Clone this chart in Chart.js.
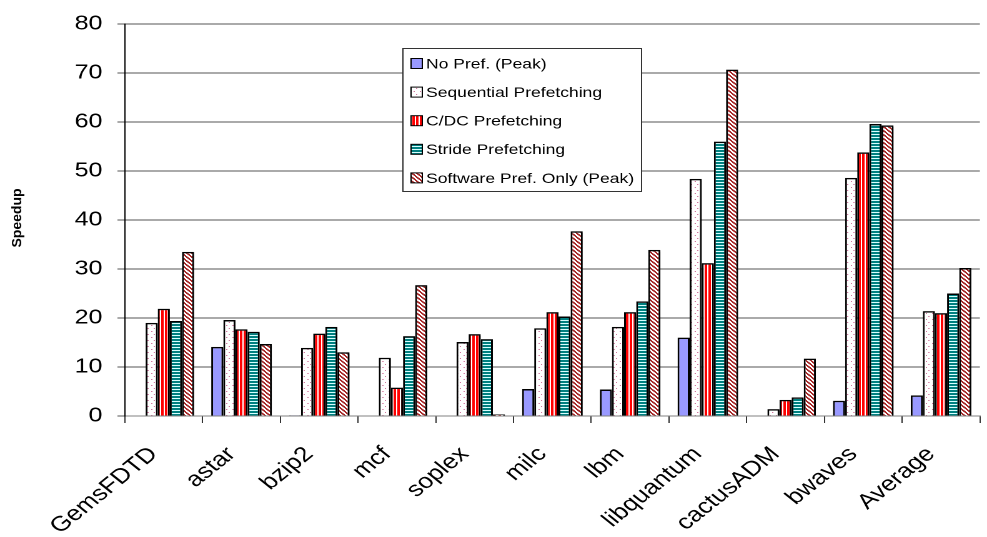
<!DOCTYPE html>
<html>
<head>
<meta charset="utf-8">
<script src="https://cdn.jsdelivr.net/npm/chart.js@4.4.0/dist/chart.umd.min.js"></script>
<style>
  html, body { margin:0; padding:0; background:#fff; overflow:hidden; }
</style>
</head>
<body>
<!-- drawn at 790 logical px wide and shown at 987: the original's text is stretched ~1.25x horizontally -->
<canvas id="chart" width="790" height="537" style="display:block;width:987px;height:537px;"></canvas>
<script>
const benchmarks = ['GemsFDTD','astar','bzip2','mcf','soplex','milc','lbm','libquantum','cactusADM','bwaves','Average'];
const noPref       = [0,    14.1, 0.15, 0,    0,    5.5,  5.4,  16.0, 0,    3.1,  4.2];
const sequential   = [19.0, 19.6, 13.9, 11.9, 15.1, 17.9, 18.2, 48.4, 1.4,  48.6, 21.4];
const cdc          = [21.9, 17.7, 16.8, 5.8,  16.7, 21.2, 21.2, 31.2, 3.3,  53.8, 21.0];
const stride       = [19.4, 17.2, 18.2, 16.3, 15.7, 20.3, 23.4, 56.0, 3.8,  59.6, 25.0];
const softwareOnly = [33.5, 14.7, 13.0, 26.7, 0.3,  37.7, 33.9, 70.7, 11.7, 59.3, 30.2];
const yTicks = [0, 10, 20, 30, 40, 50, 60, 70, 80];

const FONT = '"Liberation Sans", Arial, sans-serif';
const STRETCH = 987 / 790;
const canvas = document.getElementById('chart');
const ctx = canvas.getContext('2d');

// small tile -> repeating fill
function pattern(w, h, bg, draw) {
  const t = document.createElement('canvas');
  t.width = w; t.height = h;
  const c = t.getContext('2d');
  c.fillStyle = bg; c.fillRect(0, 0, w, h);
  draw(c);
  return ctx.createPattern(t, 'repeat');
}

const fills = {
  noPref: '#9999ff',
  seq: pattern(5, 6, '#ffffff', c => { c.fillStyle = '#d2789f'; c.fillRect(1, 1, 1, 1); c.fillRect(3, 4, 1, 1); }),
  cdc: pattern(3, 1, '#ffffff', c => { c.fillStyle = '#ff0000'; c.fillRect(0, 0, 2, 1); }),
  stride: pattern(1, 3, '#d8ffff', c => { c.fillStyle = '#008080'; c.fillRect(0, 0, 1, 2); }),
  sw: pattern(4, 4, '#ffffff', c => {
    c.fillStyle = '#a82a2a';
    for (let i = 0; i < 4; i++) { c.fillRect(i, i, 1, 1); c.fillRect((i + 1) % 4, i, 1, 1); }
  }),
};

const styling = {
  id: 'styling',
  beforeDraw(chart) { chart.ctx.imageSmoothingEnabled = false; },
  beforeDatasetsDraw(chart) {
    const c = chart.ctx;
    c.save();
    c.shadowColor = 'rgba(0,0,0,0.35)';
    c.shadowOffsetX = 3;
    c.shadowOffsetY = 3;
    c.shadowBlur = 0;
  },
  afterDatasetsDraw(chart) { chart.ctx.restore(); },
  afterDraw(chart) {
    const c = chart.ctx;
    c.save();
    // legend box
    c.fillStyle = '#fff';
    c.fillRect(322.5, 48.5, 191, 143);
    c.strokeStyle = '#333';
    c.lineWidth = 1;
    c.strokeRect(322.5, 48.5, 191, 143);
    c.font = '14px ' + FONT;
    c.textBaseline = 'middle';
    chart.data.datasets.forEach((ds, i) => {
      const cy = 63.5 + i * 28.6;
      c.fillStyle = ds.backgroundColor;
      c.fillRect(329, cy - 5, 9, 10);
      c.strokeStyle = '#000';
      c.strokeRect(329, cy - 5, 9, 10);
      c.fillStyle = '#000';
      c.fillText(ds.label, 341, cy + 1);
    });
    // y title, not stretched
    const a = chart.chartArea;
    c.translate(14, (a.top + a.bottom) / 2 - 2);
    c.scale(1 / STRETCH, 1);
    c.rotate(-Math.PI / 2);
    c.font = 'bold 14px ' + FONT;
    c.textAlign = 'center';
    c.textBaseline = 'middle';
    c.fillText('Speedup', 0, 0);
    c.restore();
  }
};

const barOpts = { borderColor: '#000', borderWidth: 1.5, borderSkipped: 'start', categoryPercentage: 0.78, barPercentage: 1 };

new Chart(ctx, {
  type: 'bar',
  data: {
    labels: benchmarks,
    datasets: [
      { label: 'No Pref. (Peak)', data: noPref, backgroundColor: fills.noPref, ...barOpts },
      { label: 'Sequential Prefetching', data: sequential, backgroundColor: fills.seq, ...barOpts },
      { label: 'C/DC Prefetching', data: cdc, backgroundColor: fills.cdc, ...barOpts },
      { label: 'Stride Prefetching', data: stride, backgroundColor: fills.stride, ...barOpts },
      { label: 'Software Pref. Only (Peak)', data: softwareOnly, backgroundColor: fills.sw, ...barOpts },
    ]
  },
  options: {
    responsive: false,
    devicePixelRatio: 2,
    animation: false,
    layout: { padding: { top: 18, right: 0, left: 0, bottom: 0 } },
    plugins: { legend: { display: false }, tooltip: { enabled: false } },
    scales: {
      x: {
        afterFit: s => { s.height = 121; },
        grid: { drawOnChartArea: false, tickLength: 7, color: '#333', offset: true },
        border: { color: '#808080', width: 1 },
        ticks: { autoSkip: false, minRotation: 45, maxRotation: 45, color: '#000', padding: 19, labelOffset: -8, font: { family: FONT, size: 21 } }
      },
      y: {
        min: 0, max: 80,
        afterFit: s => { s.width = 100; },
        afterBuildTicks: s => { s.ticks = yTicks.map(v => ({ value: v })); },
        grid: { color: '#555', tickLength: 6 },
        border: { color: '#000', width: 1 },
        ticks: { color: '#000', padding: 12, font: { family: FONT, size: 20 } }
      }
    }
  },
  plugins: [styling]
});
</script>
</body>
</html>
